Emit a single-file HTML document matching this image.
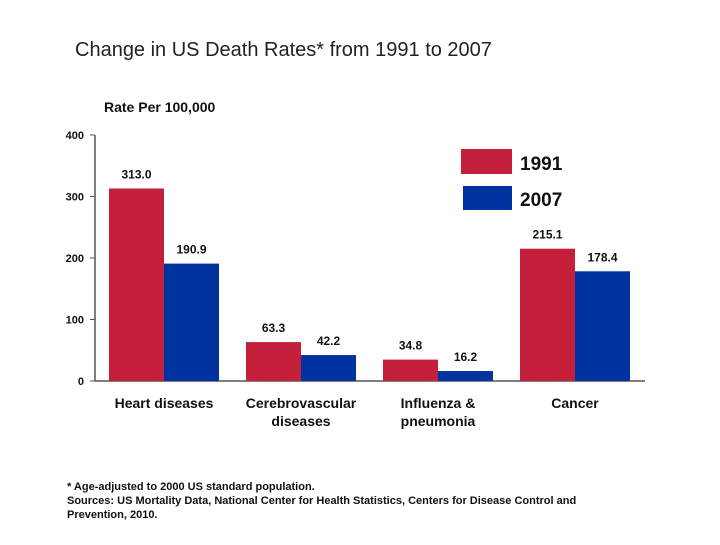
<!DOCTYPE html>
<html><head><meta charset="utf-8"><style>
body{margin:0;background:#fff;font-family:"Liberation Sans",Arial,sans-serif;}
svg text{font-family:"Liberation Sans",Arial,sans-serif;}
</style></head><body>
<svg id="c" width="720" height="540">
<text x="75" y="56" font-size="20" fill="#222">Change in US Death Rates* from 1991 to 2007</text>
<text x="104" y="112" font-size="14" font-weight="bold" fill="#111">Rate Per 100,000</text>
<g id="g"></g>
<rect x="461" y="149" width="51" height="25" fill="#C4203C"/>
<text x="520" y="170" font-size="19" font-weight="bold" fill="#111">1991</text>
<rect x="463" y="186" width="49" height="24" fill="#0033A0"/>
<text x="520" y="206" font-size="19" font-weight="bold" fill="#111">2007</text>
<text x="67" y="490" font-size="11" font-weight="bold" fill="#111">* Age-adjusted to 2000 US standard population.</text>
<text x="67" y="504" font-size="11" font-weight="bold" fill="#111">Sources: US Mortality Data, National Center for Health Statistics, Centers for Disease Control and</text>
<text x="67" y="518" font-size="11" font-weight="bold" fill="#111">Prevention, 2010.</text>
</svg>
<script>
const categories=[["Heart diseases"],["Cerebrovascular","diseases"],["Influenza &","pneumonia"],["Cancer"]];
const values1991=[313.0,63.3,34.8,215.1];
const values2007=[190.9,42.2,16.2,178.4];
const yTicks=[0,100,200,300,400];
const NS="http://www.w3.org/2000/svg",g=document.getElementById('g');
const y0=381,yTop=135,yMax=400;
const y=v=>y0-(v/yMax)*(y0-yTop);
const x0=96,groupW=137,bw=55;
const gx=i=>x0+13+i*groupW;
function mk(t,a,txt){const e=document.createElementNS(NS,t);for(const k in a)e.setAttribute(k,a[k]);if(txt!=null)e.textContent=txt;g.appendChild(e);return e;}
let e=mk('line',{x1:95,y1:yTop,x2:95,y2:y0,stroke:'#555','stroke-width':1.5});

e=mk('line',{x1:95,y1:y0,x2:645,y2:y0,stroke:'#555','stroke-width':1.5});

yTicks.forEach(t=>{
 let l=mk('line',{x1:90,x2:95,y1:y(t),y2:y(t),stroke:'#555'});
 
 let tx=mk('text',{x:84,y:y(t)+4,'font-size':11,'font-weight':'bold','text-anchor':'end',fill:'#111'},t);
 
});
categories.forEach((c,i)=>{
 const a=values1991[i],b=values2007[i],x=gx(i);
 let r=mk('rect',{x:x,y:y(a),width:bw,height:y0-y(a),fill:'#C4203C'});
 
 r=mk('rect',{x:x+bw,y:y(b),width:bw,height:y0-y(b),fill:'#0033A0'});
 
 let t=mk('text',{x:x+bw/2,y:y(a)-10,'font-size':12,'font-weight':'bold','text-anchor':'middle',fill:'#111'},a.toFixed(1));
 
 t=mk('text',{x:x+bw*1.5,y:y(b)-10,'font-size':12,'font-weight':'bold','text-anchor':'middle',fill:'#111'},b.toFixed(1));
 
 c.forEach((ln,j)=>{
  let l=mk('text',{x:x+bw,y:408+j*18,'font-size':14,'font-weight':'bold','text-anchor':'middle',fill:'#111'},ln);
  
 });
});
</script>
</body></html>
